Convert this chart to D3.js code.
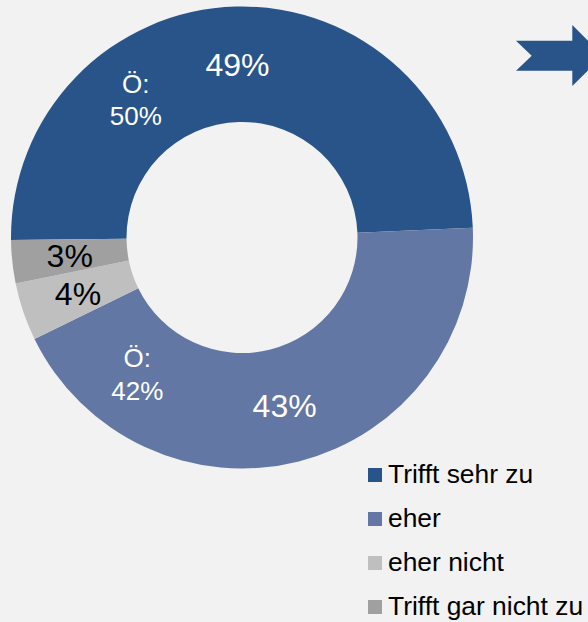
<!DOCTYPE html>
<html>
<head>
<meta charset="utf-8">
<script src="https://cdn.jsdelivr.net/npm/d3@7"></script>
<style>
    body { margin: 0; background: #f2f2f2; }
    svg { display: block; font-family: Arial, "Liberation Sans", sans-serif; }
</style>
</head>
<body>
<div></div>
<script>
var width = 588;
var height = 622;

// Anteile je Kategorie (in %)
var categories = ["Trifft sehr zu", "eher", "eher nicht", "Trifft gar nicht zu"];
var values = [49, 43, 4, 3];
var colors = ["#28548a", "#6277a4", "#bfbfbf", "#a0a0a0"];
var labelColors = ["#ffffff", "#ffffff", "#000000", "#000000"];

// Vergleichswerte Österreich
var compareLabels = ["Ö:", "Ö:"];
var compareValues = [50, 42];
var compareSlice = [0, 1];
var compareAngle = [-37.8, 217.2]; // Grad, im Uhrzeigersinn ab 12 Uhr

var cx = 242, cy = 237.5;
var outerR = 231, innerR = 115.5;
var start = -90.6 * Math.PI / 180;

var svg = d3.select("div")
    .append("svg")
    .attr("width", width)
    .attr("height", height);

svg.append("rect")
    .attr("width", width)
    .attr("height", height)
    .attr("fill", "#f2f2f2");

var pie = d3.pie()
    .sort(null)
    .startAngle(start)
    .endAngle(start + 2 * Math.PI);

var arc = d3.arc()
    .innerRadius(innerR)
    .outerRadius(outerR);

var arcs = pie(values);

var g = svg.append("g")
    .attr("transform", "translate(" + cx + "," + cy + ")");

g.selectAll("path")
    .data(arcs)
    .enter()
    .append("path")
    .attr("d", arc)
    .attr("fill", function (d, i) { return colors[i]; });

g.selectAll("text.val")
    .data(arcs)
    .enter()
    .append("text")
    .attr("class", "val")
    .attr("transform", function (d) { return "translate(" + arc.centroid(d) + ")"; })
    .attr("dy", "0.36em")
    .attr("text-anchor", "middle")
    .style("font-size", "32px")
    .attr("fill", function (d, i) { return labelColors[i]; })
    .text(function (d) { return d.data + "%"; });

// Vergleichswerte
var midR = (innerR + outerR) / 2;
compareValues.forEach(function (v, k) {
    var a = compareAngle[k] * Math.PI / 180;
    var x = midR * Math.sin(a);
    var y = -midR * Math.cos(a);
    var t = g.append("text")
        .attr("text-anchor", "middle")
        .attr("fill", labelColors[compareSlice[k]])
        .style("font-size", "26px");
    t.append("tspan")
        .attr("x", x)
        .attr("y", y - 8)
        .text(compareLabels[k]);
    t.append("tspan")
        .attr("x", x)
        .attr("y", y + 24.5)
        .text(v + "%");
});

// Pfeil oben rechts
svg.append("path")
    .attr("d", "M516,40.7 L572.3,40.7 L572.3,25 L603,55.7 L572.3,86 L572.3,70.7 L516,70.7 L531.7,55.7 Z")
    .attr("fill", colors[0]);

// Legende
var legend = svg.selectAll("g.leg")
    .data(categories)
    .enter()
    .append("g")
    .attr("class", "leg")
    .attr("transform", function (d, i) { return "translate(368," + (483 + i * 44) + ")"; });

legend.append("rect")
    .attr("x", 0)
    .attr("y", -15)
    .attr("width", 14)
    .attr("height", 14)
    .attr("fill", function (d, i) { return colors[i]; });

legend.append("text")
    .attr("x", 20)
    .attr("y", 0)
    .style("font-size", "26.4px")
    .attr("fill", "#000")
    .text(function (d) { return d; });
</script>
</body>
</html>
